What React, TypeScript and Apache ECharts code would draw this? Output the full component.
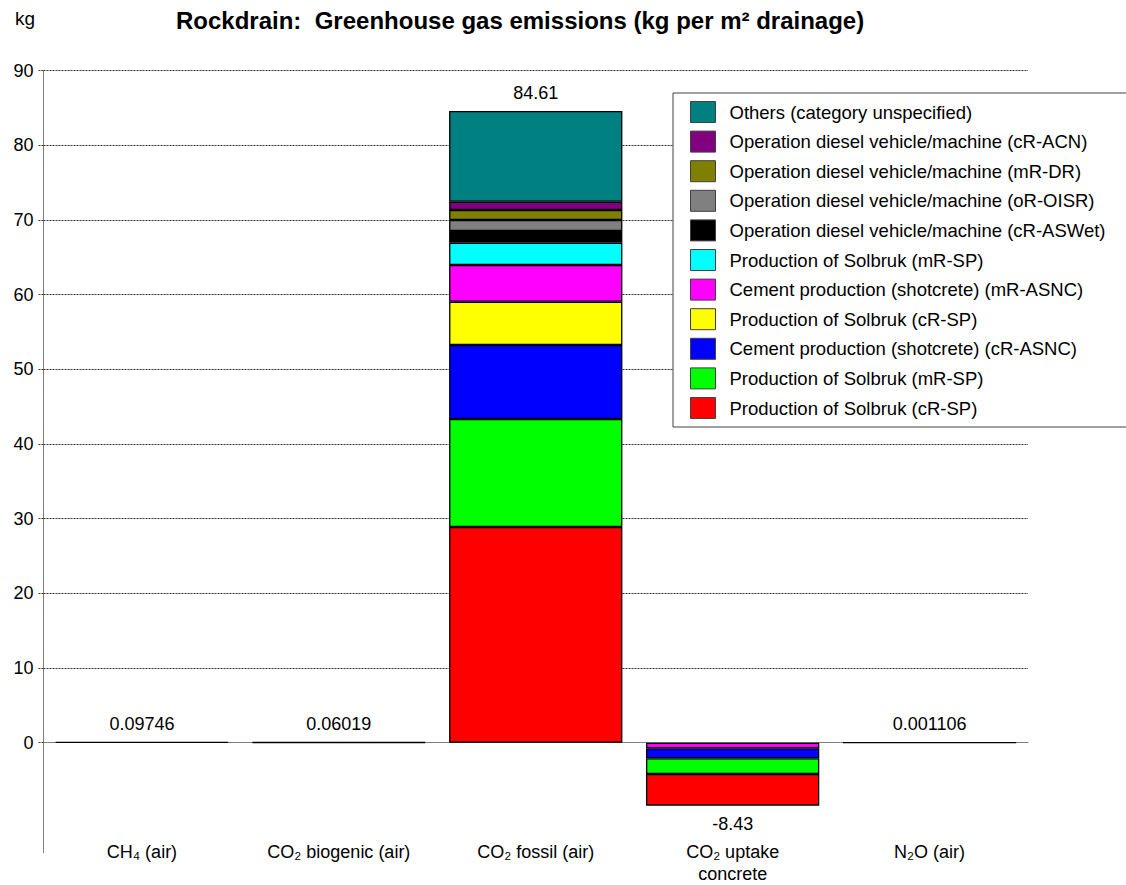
import React, { useEffect, useRef } from "react";
import * as echarts from "echarts";

// ---------- data ----------
const categories = ["CH₄ (air)", "CO₂ biogenic (air)", "CO₂ fossil (air)", "CO₂ uptake\nconcrete", "N₂O (air)"];
const totals = [0.09746, 0.06019, 84.61, -8.43, 0.001106];

const solbrukCR = [null, null, 28.89, -4.23, null];
const solbrukMR = [null, null, 14.46, -2.11, null];
const cementCR = [null, null, 9.91, -1.34, null];
const solbrukCR2 = [null, null, 5.8, null, null];
const cementMR = [null, null, 4.92, -0.75, null];
const solbrukMR2 = [null, null, 2.98, null, null];
const dieselASWet = [null, null, 1.57, null, null];
const dieselOISR = [null, null, 1.47, null, null];
const dieselDR = [null, null, 1.34, null, null];
const dieselACN = [null, null, 1.11, null, null];
const others = [0.09746, 0.06019, 12.16, null, 0.001106];

const seriesNames = [
  "Production of Solbruk (cR-SP)",
  "Production of Solbruk (mR-SP)",
  "Cement production (shotcrete) (cR-ASNC)",
  "Production of Solbruk (cR-SP) ",
  "Cement production (shotcrete) (mR-ASNC)",
  "Production of Solbruk (mR-SP) ",
  "Operation diesel vehicle/machine (cR-ASWet)",
  "Operation diesel vehicle/machine (oR-OISR)",
  "Operation diesel vehicle/machine (mR-DR)",
  "Operation diesel vehicle/machine (cR-ACN)",
  "Others (category unspecified)",
];
const seriesValues = [
  solbrukCR, solbrukMR, cementCR, solbrukCR2, cementMR, solbrukMR2,
  dieselASWet, dieselOISR, dieselDR, dieselACN, others,
];
// order of negative stacking, from zero downward
const negativeOrder = [4, 2, 1, 0];

const yMax = 90;
const yInterval = 10;

// ---------- styles ----------
const seriesColors = [
  "#FF0000", "#00FF00", "#0000FF", "#FFFF00", "#FF00FF", "#00FFFF",
  "#000000", "#808080", "#808000", "#800080", "#008080",
];
const FONT = 'Arial, "Liberation Sans", Helvetica, sans-serif';

export default function App() {
  const ref = useRef<HTMLDivElement>(null);

  useEffect(() => {
    const chart = echarts.init(ref.current!, null, { renderer: "svg" });

    const totalLabel = (dir: string) => ({
      show: true,
      position: dir,
      distance: 9,
      fontSize: 18,
      color: "#000",
      fontFamily: FONT,
      formatter: (p: any) => String(totals[p.dataIndex]),
    });

    const base = {
      type: "bar",
      xAxisIndex: 0,
      yAxisIndex: 0,
      barWidth: "88%",
      barGap: "-100%",
      emphasis: { disabled: true },
    };

    const posSeries = seriesNames.map((name, i) => ({
      ...base,
      name,
      stack: "pos",
      itemStyle: { color: seriesColors[i], borderColor: "#000", borderWidth: 1.3 },
      data: seriesValues[i].map((v) => (v !== null && v > 0 ? v : null)),
      label: i === seriesNames.length - 1 ? totalLabel("top") : { show: false },
    }));

    const negSeries = negativeOrder.map((idx, k) => ({
      ...base,
      name: seriesNames[idx],
      stack: "neg",
      itemStyle: { color: seriesColors[idx], borderColor: "#000", borderWidth: 1.3 },
      data: seriesValues[idx].map((v) => (v !== null && v < 0 ? v : null)),
      label: k === negativeOrder.length - 1 ? totalLabel("bottom") : { show: false },
    }));

    const option: any = {
      animation: false,
      backgroundColor: "#fff",
      title: [
        {
          text: "Rockdrain:  Greenhouse gas emissions (kg per m² drainage)",
          left: 176,
          top: 8,
          padding: 0,
          textStyle: { fontSize: 24, fontWeight: "bold", color: "#000", fontFamily: FONT },
        },
        {
          text: "kg",
          left: 15,
          top: 9,
          padding: 0,
          textStyle: { fontSize: 19, fontWeight: "normal", color: "#000", fontFamily: FONT },
        },
      ],
      legend: {
        orient: "vertical",
        left: 673,
        top: 93,
        padding: [8, 40, 8, 17],
        itemWidth: 25,
        itemHeight: 21,
        itemGap: 7.6,
        icon: "rect",
        backgroundColor: "#fff",
        borderColor: "#404040",
        borderWidth: 1,
        selectedMode: false,
        data: [...seriesNames].reverse(),
        itemStyle: { borderColor: "#404040", borderWidth: 1 },
        textStyle: { fontSize: 18.5, color: "#000", fontFamily: FONT, padding: [0, 0, 0, 9] },
      },
      grid: [
        { left: 43.5, right: 98, top: 70.7, height: 782, outerBoundsMode: "none", containLabel: false },
        { left: 43.5, right: 98, top: 70.7, height: 672, outerBoundsMode: "none", containLabel: false },
      ],
      xAxis: [
        {
          type: "category",
          gridIndex: 0,
          data: categories,
          axisLine: { show: false, onZero: false },
          axisTick: { show: false },
          splitLine: { show: false },
          axisLabel: {
            interval: 0,
            fontSize: 18,
            lineHeight: 22,
            color: "#000",
            fontFamily: FONT,
            margin: -12,
          },
        },
        {
          type: "category",
          gridIndex: 1,
          data: categories,
          axisLine: { show: true, onZero: false, lineStyle: { color: "#808080", width: 1 } },
          axisTick: { show: false },
          axisLabel: { show: false },
          splitLine: { show: false },
        },
      ],
      yAxis: [
        {
          type: "value",
          gridIndex: 0,
          min: -14.73,
          max: yMax,
          axisLine: { show: true, lineStyle: { color: "#808080", width: 1 } },
          axisTick: { show: false },
          axisLabel: { show: false },
          splitLine: { show: false },
        },
        {
          type: "value",
          gridIndex: 1,
          min: 0,
          max: yMax,
          interval: yInterval,
          axisLine: { show: false },
          axisTick: { show: true, length: 6, lineStyle: { color: "#333", type: [2, 1] } },
          axisLabel: { fontSize: 18, color: "#000", fontFamily: FONT, margin: 10 },
          splitLine: { show: true, showMinLine: false, lineStyle: { color: "#333", type: [2, 1], width: 1 } },
        },
      ],
      series: [...posSeries, ...negSeries],
    };

    chart.setOption(option);
    return () => chart.dispose();
  }, []);

  return (
    <div
      ref={ref}
      style={{ position: "absolute", left: 0, top: 0, width: 1126, height: 885 }}
    />
  );
}
